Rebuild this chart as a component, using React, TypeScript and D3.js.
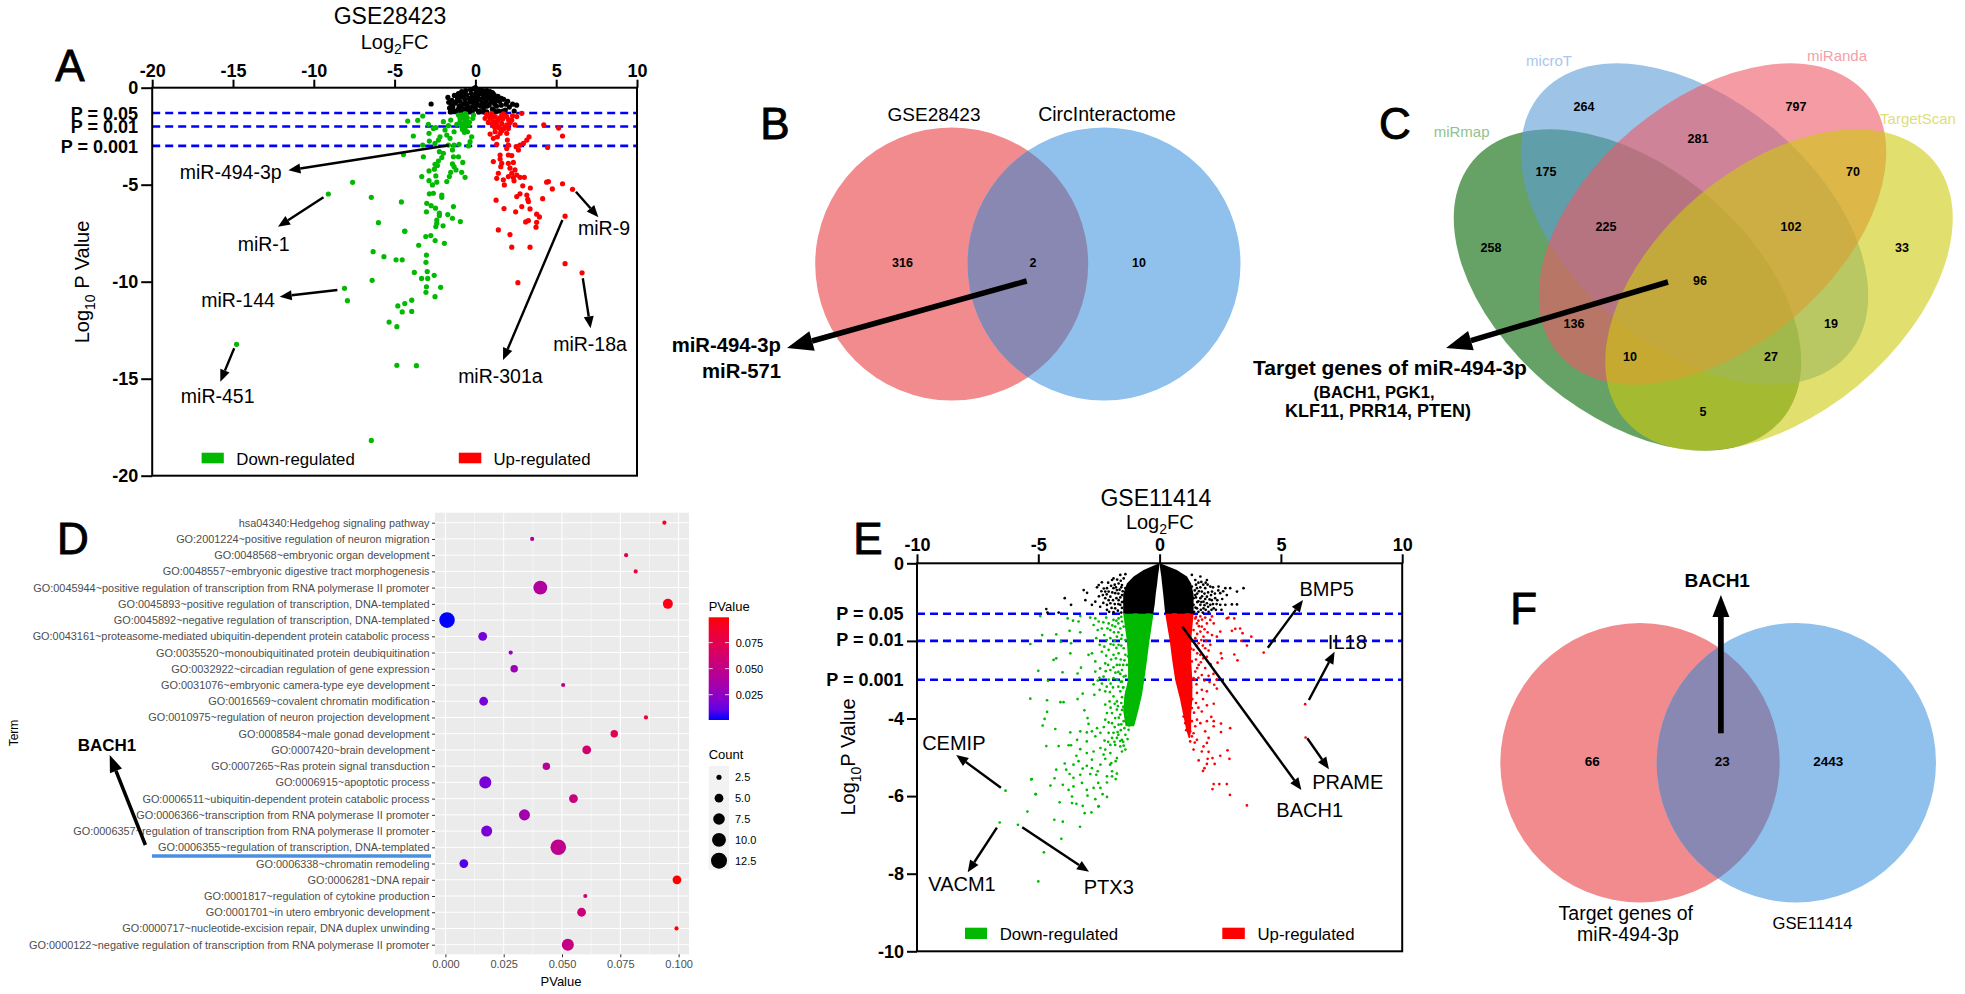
import * as d3 from "d3";
import { useEffect, useRef } from "react";

type Pt = [number, number];

// panel A : GSE28423 volcano, [log2FC, log10 P]
const aNone: Pt[] = [[-2.74,-.84],[-1.7,-.5],[-1.65,-.75],[-1.6,-1.05],[-1.55,-1.25],[-1.45,-.65],[-1.4,-1],[-1.3,-.4],[-1.25,-.8],[-1.2,-1.2],[-1.1,-.55],[-1.05,-.3],[-1,-.95],[-.95,-.7],[-.9,-1.25],[-.85,-.2],[-.8,-.45],[-.75,-.85],[-.7,-1.1],[-.65,-.6],[-.6,-.15],[-.55,-.35],[-.5,-.95],[-.45,-1.25],[-.4,-.55],[-.35,-.75],[-.3,-.1],[-.25,-.3],[-.2,-1],[-.15,-.5],[-.1,-.05],[-.05,-.7],[0,0],[.05,-.25],[.1,-.45],[.15,-.9],[.2,-.1],[.25,-1.2],[.3,-.6],[.35,-.3],[.4,-.8],[.45,-.15],[.5,-1.05],[.55,-.45],[.6,-.25],[.65,-.7],[.7,-1.25],[.75,-.35],[.8,-.55],[.85,-.9],[.9,-.2],[1,-.5],[1.05,-1.1],[1.1,-.7],[1.15,-.35],[1.25,-.55],[1.3,-.95],[1.4,-.45],[1.45,-1.2],[1.5,-.7],[1.6,-.9],[1.75,-.6],[1.85,-1.15],[2,-.7],[2.1,-1],[2.3,-.85],[2.4,-1.2],[2.55,-.9],[-.1,-.4],[-.3,-.55],[.05,-.6],[.3,-.15],
  [-1.5,-.9],[-1.35,-1.2],[-1.15,-.7],[-1.05,-1.1],[-.95,-.45],[-.9,-1],[-.7,-.3],[-.6,-.8],[-.55,-1.1],[-.35,-1.05],[-.25,-.7],[-.2,-1.25],[-.1,-.9],[0,-.4],[0,-1.1],[.1,-.7],[.2,-.35],[.2,-1.25],[.35,-.95],[.45,-.55],[.55,-.85],[.55,-1.25],[.7,-.15],[.7,-.95],[.85,-.4],[.95,-.75],[1.05,-.25],[1.2,-.85],[1.2,-1.2],[1.35,-.65],[1.6,-.55],[1.7,-1.2],[1.9,-.85]];
const aDown: Pt[] = [[-7.6,-4.88],[-9.1,-5.48],[-6.44,-5.65],[-6,-6.96],[-4.37,-7.39],[-6.33,-8.45],[-5.66,-8.71],[-4.91,-8.87],[-4.53,-8.87],[-6.39,-9.93],[-8.1,-10.34],[-7.92,-10.98],[-14.78,-13.23],[-6.44,-18.18],[-4.86,-14.31],[-3.65,-14.33],[-5.34,-12.08],[-4.86,-12.32],[-4.8,-11.25],[-4.37,-11.13],[-3.94,-10.95],[-4.53,-11.56],[-3.94,-11.53],
  [-4.19,-1.72],[-3.26,-1.46],[-3.57,-1.68],[-2.91,-1.89],[-2.6,-2.1],[-2.45,-2.06],[-3.84,-2.49],[-2.87,-2.35],[-2.85,-2.75],[-3.26,-2.96],[-4.45,-3.44],[-3.22,-3.56],[-2.5,-2.87],[-2.19,-2.53],[-2.29,-2.7],[-1.88,-2.18],[-1.67,-1.96],[-1.53,-1.67],[-1.98,-1.75],[-1.77,-2.44],[-1.57,-2.61],[-1.32,-2.27],[-1.15,-1.89],[-.95,-1.75],[-1.05,-1.41],[-.78,-1.49],[-.58,-1.67],[-.43,-1.92],[-.64,-2.1],[-.85,-2],[-.49,-2.27],[-.12,-1.41],[-.16,-1.58],[-.23,-2.53],[-.33,-2.78],[-.43,-3],[-1.01,-2.92],[-1.32,-2.96],[-1.67,-2.96],[-1.98,-3.38],[-2.23,-3.3],[-2.08,-3.6],[-2.29,-3.78],[-2.5,-3.95],[-1.42,-3.21],[-1.36,-3.56],[-1.05,-3.56],[-1.42,-3.93],[-.78,-3.85],[-.64,-1.75],[-.74,-1.92],[-.37,-1.78],[-.95,-1.58],[-.7,-1.58],[-.58,-1.44],
  [-.85,-1.4],[-.5,-1.55],[-.9,-1.85],[-.55,-1.9],[-.8,-2.15],[-.6,-1.35],[-.68,-2.3],
  [-3.32,-4.58],[-2.87,-4.29],[-2.54,-4.2],[-2.35,-4.01],[-2.45,-4.55],[-2.87,-4.79],[-2.66,-5.01],[-2.39,-4.87],[-1.77,-4.84],[-1.61,-4.58],[-1.53,-4.36],[-1.2,-4.24],[-.85,-4.36],[-.64,-4.62],[-1.32,-4.07],[-2.85,-5.47],[-2.6,-5.44],[-2.08,-5.53],[-2.08,-5.65],[-4.58,-5.89],[-3.01,-5.96],[-2.74,-6.08],[-2.47,-6.21],[-3.03,-6.4],[-1.36,-6.13],[-2.23,-6.47],[-2.23,-6.59],[-1.71,-6.54],[-1.42,-6.73],[-2.39,-6.82],[-2.39,-6.99],[-2.45,-7.16],[-2,-7.12],[-.93,-6.9],[-4.37,-7.4],[-3.07,-7.67],[-2.76,-7.62],[-2.49,-7.88],[-1.92,-8.02],[-3.51,-8.12],[-3.03,-8.63],[-3.06,-9],[-3.78,-9.52],[-2.98,-9.48],[-3.33,-9.83],[-2.95,-9.83],[-2.55,-9.67],[-3.03,-10.26],[-2.15,-10.29],[-3.06,-10.55],[-2.5,-10.77]];
const aUp: Pt[] = [[.7,-1.37],[1,-1.32],[.6,-1.58],[.91,-1.58],[1.22,-1.49],[.8,-1.79],[1.11,-1.75],[1.42,-1.67],[1.63,-1.41],[1.94,-1.49],[2.25,-1.67],[2.56,-1.49],[2.87,-1.32],[1.32,-1.92],[1.63,-1.84],[1.94,-1.92],[1.53,-2.1],[1.77,-2.1],[2.04,-2.1],[2.45,-1.92],[.91,-2.39],[1.22,-2.27],[1.53,-2.35],[1.94,-2.35],[1.11,-2.61],[1.36,-2.53],[1.32,-2.92],[1.98,-2.7],[2.04,-2.96],[1.94,-3.13],[2.52,-3.04],[2.76,-2.96],[2.97,-2.87],[3.18,-2.7],[3.32,-2.53],[2.66,-3.21],[4.47,-3.08],[4.23,-1.91],[5.15,-2.08],[5.39,-2.49],[1.53,-3.47],[2.04,-3.47],[2.25,-3.5],[1.11,-3.81],[1.63,-3.9],[2.04,-3.9],[2.35,-3.85],[1.53,-3.68],
  [.85,-1.45],[1.1,-1.5],[1.3,-1.75],[1.5,-1.55],[1.7,-1.6],[1.05,-1.9],[1.2,-2.05],[1.45,-2.05],[1.65,-2.2],[1.85,-2.05],[2.15,-1.8],[2.3,-1.45],[1.75,-1.35],[2.05,-1.65],
  [1.57,-4.07],[1.42,-4.41],[1.32,-4.67],[1.73,-4.75],[1.79,-5.01],[2.14,-4.15],[2.45,-4.24],[2.25,-4.41],[2.04,-4.58],[2.35,-4.63],[2.56,-4.5],[2.39,-4.8],[2.76,-4.62],[3.03,-4.62],[2.93,-5.06],[3.4,-5.17],[4.41,-4.87],[4.52,-4.84],[4.76,-5.22],[1.28,-5.8],[1.77,-6.23],[2.49,-6.4],[2.56,-5.61],[2.76,-5.47],[3.18,-5.53],[3.24,-5.75],[3.28,-5.87],[4.16,-5.72],[2.87,-6.13],[3.38,-6.25],[3.79,-6.52],[3.96,-6.66],[3.11,-6.92],[3.28,-6.85],[3.79,-6.94],[3.75,-7.19],[1.42,-7.33],[2.14,-7.57],[2.25,-8.22],[3.38,-8.22],[5.39,-4.95],[6.01,-5.24],[5.55,-6.62],[5.55,-9.07],[6.6,-9.54],[2.63,-10.05]];

// panel E : GSE11414 volcano, the dense wedges are kept as envelopes
const eBlackDepth = [0,-.17,-.34,-.52,-.8,-1.05,-1.3];
const eBlackLeftOuter = [-.02,-.66,-1.07,-1.35,-1.5,-1.5,-1.5];
const eBlackLeftInner = [0,-.03,-.07,-.1,-.16,-.2,-.26];
const eBlackRightOuter = [.02,.71,1.13,1.3,1.4,1.4,1.4];
const eBlackRightInner = [0,.03,.07,.1,.15,.19,.23];
const eGreenDepth = [-1.3,-2,-2.5,-3,-3.4,-3.8,-4.2];
const eGreenOuter = [-1.5,-1.35,-1.3,-1.3,-1.45,-1.5,-1.4];
const eGreenInner = [-.25,-.42,-.52,-.63,-.73,-.88,-1.05];
const eRedDepth = [-1.3,-2,-2.5,-3,-3.5,-3.9,-4.3,-4.5];
const eRedOuter = [1.4,1.3,1.3,1.35,1.35,1.3,1.3,1.25];
const eRedInner = [.23,.42,.52,.64,.84,.97,1.1,1.2];
const eNone: Pt[] = [[-4.67,-1.18],[-4.62,-1.27],[-4.16,-1.27],[-3.91,-.9],[-3.65,-1.07],[-3.13,-.69],[-2.99,-.76],[-3.06,-.95],[-2.79,-1.07],[-2.65,-.99],[-2.58,-.62],[-2.51,-.56],[-2.38,-.49],[-2.17,-.64],[-1.96,-.43],[-1.9,-.39],[-1.62,-.3],[-1.41,-.28],[-1.48,-.39],[-2.1,-.73],[-1.9,-.64],[-1.76,-.69],[-2.03,-.86],[-2.24,-.9],[-2.45,-1.12],[-2.17,-1.07],[-2.03,-1.03],[-1.83,-1.16],[-1.69,-.95],[-1.55,-.82],[-1.62,-1.07],[-1.41,-1.2],[-1.41,-.64],[-1.55,-.56],[-1.69,-.52],[-1.83,-.77],[-2.24,-.73],[-2.34,-.82],[-2.17,-1.2],[-1.48,-.99],
  [-1.6,-.45],[-1.75,-.42],[-1.58,-.62],[-1.7,-.78],[-1.85,-.55],[-2,-.58],[-2.12,-.5],[-1.95,-.75],[-2.18,-.8],[-2.3,-.65],[-1.62,-.88],[-1.78,-.9],[-1.92,-.95],[-2.1,-.95],[-1.55,-1],[-1.7,-1.05],[-1.85,-1.05],[-1.98,-1.15],[-2.32,-1.02],[-1.55,-1.15],[-1.72,-1.22],[-1.9,-1.26],[-2.08,-1.25],[-1.58,-1.27],[-2.4,-.72],[-2.5,-.85],[-1.65,-.68],[-1.8,-.62],[-1.52,-.72],
  [3.46,-.64],[3.19,-.73],[2.91,-.64],[2.71,-.64],[2.43,-.6],[1.95,-.43],[1.68,-.34],[1.33,-.3],[1.47,-.43],[2.16,-.73],[2.5,-.77],[2.77,-.82],[2.71,-1.07],[2.98,-1.06],[3.19,-1.06],[2.5,-1.07],[2.23,-1.16],[2.09,-1.07],[2.02,-1.25],[1.81,-1.16],[1.68,-1.07],[1.54,-1.16],[1.4,-1.07],[1.95,-.86],[1.74,-.73],[1.54,-.64],[2.09,-.6],[2.29,-.9],[1.88,-.64],[1.68,-.9],[1.47,-.82],[1.33,-.6],[1.81,-.99],[1.4,-.9],[1.95,-1.03],[1.6,-.5],[1.8,-.55],[2,-.75],[1.55,-1],[1.7,-1.2],[1.9,-1.2],[2.15,-.95],[2.35,-1.05],[1.45,-.7],[1.75,-.85],
  [1.5,-.55],[1.62,-.72],[1.72,-.48],[1.85,-.78],[1.98,-.55],[2.06,-.93],[2.2,-.62],[2.28,-.78],[2.38,-.95],[1.5,-.88],[1.6,-.98],[1.72,-1.0],[1.88,-.92],[2,-1.12],[2.14,-1.2],[1.48,-1.14],[1.6,-1.25],[1.78,-1.27],[2.32,-1.2],[2.42,-.7],[2.58,-.92],[2.62,-.72],[1.55,-.78],[1.68,-.62],[1.9,-.5],[2.12,-.82],[2.55,-1.2],[2.2,-1.05],[1.42,-1.25],[1.85,-1.08]];
const eDown: Pt[] = [[-4.92,-1.36],[-4.84,-1.85],[-5.33,-2.08],[-4.26,-1.83],[-4.07,-2.02],[-3.79,-1.42],[-3.71,-1.74],[-3.65,-2.06],[-3.57,-1.48],[-3.27,-1.36],[-3.34,-1.5],[-3.27,-1.78],[-3.68,-2.32],[-4.37,-2.49],[-4.26,-2.45],[-5,-2.77],[-4,-2.81],[-4.6,-3.03],[-3.38,-2.84],[-3.24,-2.69],[-2.93,-2.36],[-2.79,-2.32],[-2.86,-1.4],[-2.65,-1.42],[-2.51,-1.5],[-2.72,-1.59],[-2.55,-1.72],[-2.38,-1.68],[-2.61,-1.93],[-2.47,-2.1],[-2.28,-1.85],[-2.1,-1.55],[-1.9,-1.46],[-1.69,-1.42],[-1.55,-1.5],[-2.03,-1.72],[-1.83,-1.63],[-1.62,-1.68],[-1.48,-1.63],[-2.03,-1.93],[-1.76,-1.89],[-1.55,-1.85],[-1.41,-1.98],[-1.9,-2.1],[-1.69,-2.1],[-1.48,-2.19],[-2.1,-2.23],[-1.9,-2.36],[-1.69,-2.32],[-1.41,-2.36],[-2.65,-2.53],[-2.45,-2.71],[-2.24,-2.58],[-2.03,-2.75],[-1.76,-2.62],[-1.55,-2.75],[-1.35,-2.62],[-2.31,-2.92],[-2.1,-3],[-1.9,-2.96],[-1.48,-2.92],[-2.65,-2.79],
  [-2.2,-1.4],[-2.32,-1.52],[-2.15,-1.68],[-1.78,-1.48],[-1.95,-1.6],[-1.7,-1.55],[-1.58,-1.38],[-1.88,-1.78],[-1.7,-1.78],[-1.58,-1.95],[-2.18,-1.98],[-1.85,-2],[-2.28,-2.15],[-2.02,-2.08],[-1.78,-2.18],[-1.58,-2.12],[-2.38,-2.28],[-2.2,-2.38],[-2,-2.48],[-1.8,-2.45],[-1.6,-2.48],[-1.45,-2.5],[-2.12,-2.62],[-1.9,-2.68],[-1.65,-2.62],[-1.5,-2.62],[-2.22,-2.78],[-1.82,-2.82],[-1.62,-2.85],[-2.48,-2.95],[-2.02,-3.1],[-1.75,-3],[-1.55,-3.05],[-2.38,-3.1],[-2.18,-3.18],[-1.92,-3.2],[-1.7,-3.18],[-1.5,-3.2],[-2.05,-3.32],[-1.62,-3.3],[-2.55,-3.02],[-2.72,-3.12],
  [-5.33,-3.49],[-4.64,-3.53],[-4.09,-3.58],[-3.96,-3.58],[-3.38,-3.5],[-3.17,-3.36],[-2.69,-3.39],[-2.47,-3.26],[-2.24,-3.3],[-4.64,-3.83],[-4.74,-4.01],[-4.82,-4.18],[-4.3,-4.27],[-3.1,-3.79],[-2.97,-3.99],[-2.93,-4.14],[-2.24,-3.64],[-2.06,-3.56],[-2.17,-3.86],[-2.24,-4.03],[-1.9,-3.43],[-1.76,-3.56],[-1.96,-3.86],[-1.76,-3.77],[-1.83,-3.99],[-1.62,-3.9],[-1.48,-4.07],[-1.35,-4.12],[-1.21,-3.94],[-1.28,-4.29],[-1.96,-4.12],[-1.69,-4.16],[-2.58,-4.25],[-2.79,-4.33],[-2.44,-4.37],[-2.1,-4.37],[-1.9,-4.37],[-1.73,-4.35],[-1.41,-4.42],[-3.68,-4.36],[-3.27,-4.33],[-3,-4.36],[-3.4,-4.55],[-3,-4.59],[-2.65,-4.46],[-2.27,-4.57],[-1.96,-4.5],[-1.76,-4.5],[-1.55,-4.55],[-1.32,-4.53],[-4.67,-4.71],[-4.16,-4.71],[-3.75,-4.69],[-3.65,-4.69],[-3.27,-4.79],[-3.43,-4.96],[-3,-4.89],[-2.72,-4.85],[-2.44,-4.76],[-2.24,-4.8],[-2.03,-4.68],[-1.83,-4.68],[-1.62,-4.72],[-1.41,-4.8],[-2.31,-4.93],[-2.03,-4.89],[-1.76,-5.02],[-1.55,-4.85],[-3.34,-5.1],[-2.79,-5.06],[-2.24,-5.04],[-1.99,-5.15],[-1.81,-5.1],[-2.44,-5.19],[-3.91,-5.16],[-4.26,-5.32],[-3.85,-5.32],[-3.55,-5.19],[-3.17,-5.29],[-3,-5.22],[-2.79,-5.28],[-2.55,-5.36],[-2.04,-5.19],[-1.96,-5.36],[-1.76,-5.42],[-3.71,-5.43],[-3.55,-5.53],[-3.27,-5.45],[-2.86,-5.43],[-2.61,-5.45],[-2.17,-5.49],[-1.96,-5.49],[-1.81,-5.56],[-4.33,-5.54],[-5.27,-5.56],[-4.5,-5.73],[-3.99,-5.71],[-3.2,-5.66],[-2.53,-5.66],[-2.17,-5.65],[-3.75,-5.84],[-3.55,-5.75],[-3,-5.84],[-2.72,-5.79],[-2.44,-5.79],[-5.1,-5.95],[-3.61,-6.01],[-2.97,-5.99],[-2.65,-6.08],[-2.35,-5.95],[-2.17,-6.02],[-4.12,-6.16],[-3.61,-6.18],[-3.43,-6.2],[-3.17,-6.25],[-2.51,-6.26],
  [-6.35,-5.86],[-6.59,-6.68],[-5.84,-6.74],[-5.45,-6.4],[-5.11,-5.95],[-5.29,-5.57],[-4.34,-6.61],[-3.99,-6.66],[-3.28,-6.79],[-4.05,-7.1],[-4.77,-7.45],[-5,-8.2],[-3.09,-6.44],[-2.81,-6.42],[-2.52,-6.27],
  [-1.35,-3.86],[-1.2,-4],[-1.1,-4.1],[-1.5,-3.7],[-1.4,-3.95],[-1.25,-4.18],[-1.45,-4.25],[-1.6,-4.3],[-1.15,-3.9],[-1.55,-3.45],[-1.5,-3.2],[-1.4,-2.9],[-1.3,-2.4],[-1.35,-3.3],[-1.6,-3.05],[-1.7,-2.8],
  [-1.58,-3.6],[-1.72,-3.68],[-1.85,-3.62],[-1.55,-3.78],[-1.68,-3.98],[-2.02,-3.72],[-2.1,-4.1],[-1.85,-4.22],[-1.58,-4.15],[-2.3,-4.22],[-1.7,-4.42],[-1.5,-4.6],[-1.62,-4.58],[-1.86,-4.6],[-2.12,-4.6],[-1.48,-4.7]];
const eUp: Pt[] = [[2.77,-1.42],[2.84,-1.4],[3.08,-1.42],[2.98,-1.74],[3.12,-1.69],[3.32,-1.68],[3.42,-1.8],[3.37,-2],[3.78,-1.89],[3.6,-2.12],[4.29,-2.3],[3.08,-2.35],[3.21,-2.5],[2.53,-2.32],[2.39,-2.56],[2.57,-2.45],[2.23,-1.55],[2.09,-1.46],[2.5,-1.76],[2.36,-1.89],[2.16,-1.85],[1.95,-1.55],[1.74,-1.63],[1.81,-1.89],[1.68,-1.76],[2.09,-2.1],[1.88,-2.19],[1.61,-2.06],[1.47,-1.42],[1.54,-1.55],[1.4,-1.72],[1.47,-1.93],[1.4,-2.23],[1.68,-2.36],[1.95,-2.41],[1.61,-2.62],[1.47,-2.79],[1.74,-2.88],[1.33,-2.53],[1.4,-2.96],[2.16,-1.37],[1.68,-1.37],
  [1.5,-1.38],[1.6,-1.48],[1.75,-1.45],[1.88,-1.4],[1.62,-1.62],[1.85,-1.7],[1.98,-1.78],[1.55,-1.82],[1.72,-1.98],[1.92,-2],[1.52,-2.12],[1.78,-2.12],[2.02,-2.25],[1.55,-2.32],[1.8,-2.45],[1.5,-2.48],[1.7,-2.55],[2.1,-2.6],[1.88,-2.7],[1.55,-2.7],[2.02,-2.9],[1.6,-2.95],[2.22,-2.85],[1.85,-3.02],[1.52,-3.12],[2.35,-3],
  [2.06,-3.06],[2.25,-3.13],[2.36,-3.23],[1.95,-3.3],[1.79,-3.5],[1.54,-3.34],[1.74,-3.26],[2.23,-3.62],[1.95,-3.66],[2.13,-3.96],[2.23,-4.07],[1.95,-4.07],[1.74,-3.82],[1.54,-4.03],[1.33,-3.73],[1.47,-4.2],[1.68,-4.12],[2.53,-4.13],[2.53,-4.35],[2.91,-4.25],[1.88,-4.33],[2.23,-4.2],[1.26,-4.33],[1.33,-4.46],[1.54,-4.55],[1.26,-4.59],[2.02,-4.5],[1.95,-4.63],[1.81,-4.72],[1.4,-4.8],[1.74,-4.85],[2.02,-4.86],[2.8,-4.82],[2.5,-4.96],[2.18,-5.02],[1.98,-5.04],[2.88,-5.04],[1.61,-5.08],[1.95,-5.17],[2.27,-5.17],[1.85,-5.28],[1.79,-5.35],[2.23,-5.69],[2.46,-5.69],[2.77,-5.69],[2.18,-5.82],[2.9,-5.97],[3.6,-6.24],[1.06,-4.12],[1.2,-4.27],[1.13,-3.95],[1.33,-4.07],[.99,-3.95],[6,-3.63],[6.02,-4.49],
  [1.2,-3.4],[1.3,-3.2],[1.25,-2.8],[1.3,-2.2],[1.2,-3.7],[1.1,-4.3],[1.15,-3.55],[1.35,-3.5],[1.45,-3],[1.5,-3.6],[1.42,-3.85],[1.6,-3.72],[1.4,-4.38],[1.45,-4.62]];

// panel D : GO terms, top to bottom
const terms = [
  "hsa04340:Hedgehog signaling pathway",
  "GO:2001224~positive regulation of neuron migration",
  "GO:0048568~embryonic organ development",
  "GO:0048557~embryonic digestive tract morphogenesis",
  "GO:0045944~positive regulation of transcription from RNA polymerase II promoter",
  "GO:0045893~positive regulation of transcription, DNA-templated",
  "GO:0045892~negative regulation of transcription, DNA-templated",
  "GO:0043161~proteasome-mediated ubiquitin-dependent protein catabolic process",
  "GO:0035520~monoubiquitinated protein deubiquitination",
  "GO:0032922~circadian regulation of gene expression",
  "GO:0031076~embryonic camera-type eye development",
  "GO:0016569~covalent chromatin modification",
  "GO:0010975~regulation of neuron projection development",
  "GO:0008584~male gonad development",
  "GO:0007420~brain development",
  "GO:0007265~Ras protein signal transduction",
  "GO:0006915~apoptotic process",
  "GO:0006511~ubiquitin-dependent protein catabolic process",
  "GO:0006366~transcription from RNA polymerase II promoter",
  "GO:0006357~regulation of transcription from RNA polymerase II promoter",
  "GO:0006355~regulation of transcription, DNA-templated",
  "GO:0006338~chromatin remodeling",
  "GO:0006281~DNA repair",
  "GO:0001817~regulation of cytokine production",
  "GO:0001701~in utero embryonic development",
  "GO:0000717~nucleotide-excision repair, DNA duplex unwinding",
  "GO:0000122~negative regulation of transcription from RNA polymerase II promoter",
];
const termP = [.0939,.0372,.0775,.0816,.0407,.0954,.0007,.016,.028,.0295,.0505,.0164,.086,.0724,.0606,.0433,.0171,.0549,.0339,.0177,.0484,.0079,.0993,.06,.0584,.0991,.0525];
const termCount = [2,2,2,2,10,6,12,5,2,4,2,5,2,4,5,4,8,5,7,7,12,5,5,2,5,2,8];
const pTicks = [0,.025,.05,.075,.1];
const colorTicks = [.025,.05,.075];
const countTicks = [2.5,5,7.5,10,12.5];

// venn counts
const vennBCounts = ["316","2","10"];
const vennCCounts = ["264","797","281","175","70","225","102","258","33","96","136","19","10","27","5"];
const vennFCounts = ["66","23","2443"];

const FONT = "'Liberation Sans', Arial, sans-serif";

export default function App() {
  const svgRef = useRef<SVGSVGElement>(null);

  useEffect(() => {
    const svg = d3.select(svgRef.current);
    svg.selectAll("*").remove();
    svg.attr("font-family", FONT);
    const defs = svg.append("defs");

    const label = (t: string, x: number, y: number, size: number, opts: any = {}) =>
      svg.append("text")
        .attr("x", x).attr("y", y)
        .attr("font-size", size)
        .attr("text-anchor", opts.anchor ?? "middle")
        .attr("dominant-baseline", "central")
        .attr("font-weight", opts.bold ? 700 : 400)
        .attr("fill", opts.fill ?? "#000")
        .text(t);

    const panelLetter = (t: string, x: number, y: number) =>
      label(t, x, y, 44).attr("stroke", "#000").attr("stroke-width", 0.9);

    const arrow = (x1: number, y1: number, x2: number, y2: number, w = 2.4, hl = 12, hw = 10) => {
      const a = Math.atan2(y2 - y1, x2 - x1);
      const bx = x2 - hl * Math.cos(a), by = y2 - hl * Math.sin(a);
      const nx = -Math.sin(a) * hw / 2, ny = Math.cos(a) * hw / 2;
      svg.append("line").attr("x1", x1).attr("y1", y1).attr("x2", bx).attr("y2", by)
        .attr("stroke", "#000").attr("stroke-width", w);
      svg.append("path")
        .attr("d", `M${x2},${y2}L${bx + nx},${by + ny}L${bx - nx},${by - ny}Z`)
        .attr("fill", "#000");
    };

    const subText = (parts: [string, boolean][], x: number, y: number, size: number, rotate = false) => {
      const t = svg.append("text")
        .attr("font-size", size)
        .attr("text-anchor", "middle")
        .attr("transform", `translate(${x},${y})${rotate ? " rotate(-90)" : ""}`)
        .attr("dy", "0.35em");
      let down = false;
      parts.forEach(([s, sub]) => {
        const span = t.append("tspan").text(s);
        if (sub) { span.attr("font-size", size * 0.7).attr("dy", size * 0.27); down = true; }
        else if (down) { span.attr("dy", -size * 0.27); down = false; }
      });
    };

    // ---- volcano plots
    const volcano = (cfg: any) => {
      const x = d3.scaleLinear(cfg.xDomain, cfg.xRange);
      const y = d3.scaleLinear(cfg.yDomain, cfg.yRange);
      const g = svg.append("g");

      // significance lines sit behind the dots
      [-1.301, -2, -3].forEach(p => {
        g.append("line")
          .attr("x1", cfg.xRange[0]).attr("x2", cfg.xRange[1])
          .attr("y1", y(p)).attr("y2", y(p))
          .attr("stroke", "#0000ff").attr("stroke-width", 2.6)
          .attr("stroke-dasharray", "8,5");
      });

      if (cfg.wedges) {
        cfg.wedges.forEach((w: any) => {
          const area = d3.area<number>()
            .y((_, i) => y(w.depth[i]))
            .x0((_, i) => x(w.outer[i]))
            .x1((_, i) => x(w.inner[i]));
          g.append("path").attr("d", area(w.depth)).attr("fill", w.fill);
        });
      }

      cfg.series.forEach((s: any) => {
        g.append("g").selectAll("circle").data(s.points as Pt[]).join("circle")
          .attr("cx", d => x(d[0])).attr("cy", d => y(d[1]))
          .attr("r", cfg.r).attr("fill", s.fill);
      });

      g.append("rect")
        .attr("x", cfg.xRange[0]).attr("y", cfg.yRange[0])
        .attr("width", cfg.xRange[1] - cfg.xRange[0]).attr("height", cfg.yRange[1] - cfg.yRange[0])
        .attr("fill", "none").attr("stroke", "#000").attr("stroke-width", 2);

      const xAxis = d3.axisTop(x).tickValues(cfg.xTicks).tickSize(cfg.xTickLen).tickPadding(3)
        .tickFormat(d => String(d));
      const yAxis = d3.axisLeft(y).tickValues(cfg.yTicks).tickSize(cfg.yTickLen).tickPadding(3)
        .tickFormat(d => cfg.yHidden.includes(d) ? "" : String(d));
      const gx = g.append("g").attr("transform", `translate(0,${cfg.yRange[0]})`).call(xAxis);
      const gy = g.append("g").attr("transform", `translate(${cfg.xRange[0]},0)`).call(yAxis);
      [gx, gy].forEach(a => {
        a.select(".domain").remove();
        a.selectAll("line").attr("stroke", "#000").attr("stroke-width", 2);
        a.selectAll("text").attr("font-size", 18).attr("font-weight", 700)
          .attr("font-family", FONT).attr("fill", "#000");
      });
    };

    // panel A
    volcano({
      xDomain: [-20, 10], xRange: [152.2, 637],
      yDomain: [0, -20], yRange: [87.7, 475.7],
      xTicks: [-20, -15, -10, -5, 0, 5, 10], yTicks: [0, -5, -10, -15, -20], yHidden: [],
      xTickLen: 8, yTickLen: 11, r: 2.6,
      series: [
        { points: aNone, fill: "#000" },
        { points: aDown, fill: "#00b900" },
        { points: aUp, fill: "#ff0000" },
      ],
    });
    label("GSE28423", 390, 16, 23);
    subText([["Log", false], ["2", true], ["FC", false]], 394.6, 42, 20);
    panelLetter("A", 70, 65);
    subText([["Log", false], ["10", true], [" P Value", false]], 82.4, 282, 20, true);
    label("P = 0.05", 138, 114, 18, { anchor: "end", bold: true });
    label("P = 0.01", 138, 127, 18, { anchor: "end", bold: true });
    label("P = 0.001", 138, 147, 18, { anchor: "end", bold: true });
    svg.append("rect").attr("x", 201.6).attr("y", 452.7).attr("width", 22.2).attr("height", 10.6).attr("fill", "#00b900");
    label("Down-regulated", 236.3, 459, 16.8, { anchor: "start" });
    svg.append("rect").attr("x", 458.8).attr("y", 452.7).attr("width", 22.5).attr("height", 10.6).attr("fill", "#ff0000");
    label("Up-regulated", 493.5, 459, 16.8, { anchor: "start" });
    label("miR-494-3p", 230.7, 172, 19.5);
    label("miR-1", 263.7, 244, 19.5);
    label("miR-144", 238, 300, 19.5);
    label("miR-451", 217.7, 396, 19.5);
    label("miR-9", 604, 228, 19.5);
    label("miR-18a", 590, 344, 19.5);
    label("miR-301a", 500.4, 376, 19.5);
    arrow(448.8, 145.3, 288.4, 170.3);
    arrow(323.5, 197.3, 278, 226.7);
    arrow(337.4, 290, 279.7, 296.7);
    arrow(234.2, 348.3, 220.3, 381.7);
    arrow(575.9, 191.7, 598.4, 217.3);
    arrow(582.8, 278.3, 590.6, 328.3);
    arrow(562.4, 220, 503, 360);

    // ---- two set venn
    const venn2 = (id: string, c1: number, c2: number, cy: number, r: number) => {
      defs.append("clipPath").attr("id", id).append("circle").attr("cx", c1).attr("cy", cy).attr("r", r);
      svg.append("circle").attr("cx", c1).attr("cy", cy).attr("r", r).attr("fill", "#f18b8d");
      svg.append("circle").attr("cx", c2).attr("cy", cy).attr("r", r).attr("fill", "#90c1ec");
      svg.append("circle").attr("cx", c2).attr("cy", cy).attr("r", r).attr("fill", "#8988b2")
        .attr("clip-path", `url(#${id})`);
    };

    // panel B
    venn2("clipB", 951.7, 1104, 264, 136.5);
    panelLetter("B", 775, 123);
    label("GSE28423", 934, 114, 19);
    label("CircInteractome", 1107, 114, 19.5);
    const bPos = [902.5, 1033, 1139];
    vennBCounts.forEach((t, i) => label(t, bPos[i], 263, 12.5, { bold: true }));
    arrow(1026.7, 281, 787, 348, 5.5, 26, 20);
    label("miR-494-3p", 781, 345, 20.3, { anchor: "end", bold: true });
    label("miR-571", 781, 371, 20.3, { anchor: "end", bold: true });

    // panel C, drawn in the order of the overlaps
    const ellipses = [
      { cx: 1627.5, cy: 290, rot: 40, fill: "#006400" },
      { cx: 1694.5, cy: 224, rot: 40, fill: "#5c9bd5" },
      { cx: 1712.5, cy: 224, rot: -40, fill: "#ee5866" },
      { cx: 1779, cy: 290, rot: -40, fill: "#cdcb0d" },
    ];
    svg.append("g").selectAll("ellipse").data(ellipses).join("ellipse")
      .attr("rx", 201.6).attr("ry", 123.9)
      .attr("transform", d => `translate(${d.cx},${d.cy}) rotate(${d.rot})`)
      .attr("fill", d => d.fill).attr("fill-opacity", 0.6);
    panelLetter("C", 1395, 123);
    label("miRmap", 1461.6, 131, 15, { fill: "#8fc28f" });
    label("microT", 1549, 60, 15, { fill: "#a8c8ec" });
    label("miRanda", 1837, 55, 15, { fill: "#f4a0a8" });
    label("TargetScan", 1918, 118, 15, { fill: "#dede7a" });
    const cPosX = [1584, 1796, 1698, 1546, 1853, 1606, 1791, 1491, 1902, 1700, 1574, 1831, 1630, 1771, 1703];
    const cPosY = [107, 107, 139, 172, 172, 227, 227, 248, 248, 281, 324, 324, 357, 357, 412];
    vennCCounts.forEach((t, i) => label(t, cPosX[i], cPosY[i], 12.5, { bold: true }));
    arrow(1668, 282, 1446, 348, 5.5, 26, 20);
    label("Target genes of miR-494-3p", 1390, 367, 21, { bold: true });
    label("(BACH1, PGK1,", 1374, 392, 16.5, { bold: true });
    label("KLF11, PRR14, PTEN)", 1378, 411, 18, { bold: true });

    // ---- panel D dot plot
    const dx = d3.scaleLinear([0, 0.1], [445.4, 678.6]);
    const dy = d3.scalePoint(terms, [522.7, 944.7]);
    const pExtent = d3.extent(termP) as [number, number];
    const pColor = d3.scaleLinear<string>(pExtent, ["#0000ff", "#ff0000"]).interpolate(d3.interpolateLab);
    const rScale = d3.scaleSqrt([2, 13], [2.1, 8.2]);

    const dg = svg.append("g");
    dg.append("rect").attr("x", 435).attr("y", 512.7).attr("width", 254).attr("height", 441.6).attr("fill", "#ebebeb");
    terms.forEach(t => {
      dg.append("line").attr("x1", 435).attr("x2", 689).attr("y1", dy(t)!).attr("y2", dy(t)!)
        .attr("stroke", "#fff").attr("stroke-width", 1);
    });
    pTicks.forEach((p, i) => {
      dg.append("line").attr("x1", dx(p)).attr("x2", dx(p)).attr("y1", 512.7).attr("y2", 954.3)
        .attr("stroke", "#fff").attr("stroke-width", 1);
      if (i < pTicks.length - 1) {
        const m = (p + pTicks[i + 1]) / 2;
        dg.append("line").attr("x1", dx(m)).attr("x2", dx(m)).attr("y1", 512.7).attr("y2", 954.3)
          .attr("stroke", "#fff").attr("stroke-width", 0.5);
      }
    });
    dg.append("g").selectAll("circle").data(terms).join("circle")
      .attr("cx", (_, i) => dx(termP[i])).attr("cy", d => dy(d)!)
      .attr("r", (_, i) => rScale(termCount[i]))
      .attr("fill", (_, i) => pColor(termP[i]));

    const dAxisY = dg.append("g").attr("transform", "translate(435,0)")
      .call(d3.axisLeft(dy).tickSize(3).tickPadding(2.5));
    const dAxisX = dg.append("g").attr("transform", "translate(0,954.3)")
      .call(d3.axisBottom(dx).tickValues(pTicks).tickSize(3).tickPadding(2.5).tickFormat(d3.format(".3f")));
    [dAxisX, dAxisY].forEach(a => {
      a.select(".domain").remove();
      a.selectAll("line").attr("stroke", "#333");
      a.selectAll("text").attr("fill", "#4d4d4d").attr("font-family", FONT);
    });
    dAxisY.selectAll("text").attr("font-size", 10.9);
    dAxisX.selectAll("text").attr("font-size", 11);

    label("PValue", 561, 981, 13);
    label("Term", 14, 733, 12).attr("transform", "rotate(-90 14 733)");
    panelLetter("D", 73, 538);
    label("PValue", 708.7, 606, 13, { anchor: "start" });

    const barY = d3.scaleLinear(pExtent, [720, 617.3]);
    const grad = defs.append("linearGradient").attr("id", "pBar")
      .attr("x1", 0).attr("x2", 0).attr("y1", 1).attr("y2", 0);
    d3.range(0, 1.01, 0.1).forEach(o => {
      grad.append("stop").attr("offset", o)
        .attr("stop-color", pColor(pExtent[0] + o * (pExtent[1] - pExtent[0])));
    });
    svg.append("rect").attr("x", 708.7).attr("y", 617.3).attr("width", 20.3).attr("height", 102.7).attr("fill", "url(#pBar)");
    colorTicks.forEach(p => {
      [[708.7, 712.7], [725, 729]].forEach(([a, b]) => {
        svg.append("line").attr("x1", a).attr("x2", b).attr("y1", barY(p)).attr("y2", barY(p))
          .attr("stroke", "#fff").attr("stroke-width", 0.8);
      });
      label(d3.format(".3f")(p), 735.7, barY(p), 11, { anchor: "start" });
    });
    label("Count", 708.7, 754, 13, { anchor: "start" });
    svg.append("rect").attr("x", 708.7).attr("y", 766).attr("width", 20.3).attr("height", 104).attr("fill", "#f2f2f2");
    const countY = d3.scalePoint(countTicks.map(String), [777.3, 860.7]);
    countTicks.forEach(c => {
      svg.append("circle").attr("cx", 719).attr("cy", countY(String(c))!).attr("r", rScale(c)).attr("fill", "#000");
      label(d3.format(".1f")(c), 735, countY(String(c))!, 11, { anchor: "start" });
    });
    svg.append("line").attr("x1", 152).attr("x2", 431).attr("y1", 856).attr("y2", 856)
      .attr("stroke", "#4a90e2").attr("stroke-width", 3.5);
    label("BACH1", 107, 745, 17, { bold: true });
    arrow(145.4, 845, 109.7, 755, 3.5, 17, 13);

    // panel E
    volcano({
      xDomain: [-10, 10], xRange: [917, 1402.2],
      yDomain: [0, -10], yRange: [563.3, 951.3],
      xTicks: [-10, -5, 0, 5, 10], yTicks: [0, -2, -4, -6, -8, -10], yHidden: [-2],
      xTickLen: 9, yTickLen: 10, r: 1.35,
      wedges: [
        { depth: eBlackDepth, outer: eBlackLeftOuter, inner: eBlackLeftInner, fill: "#000" },
        { depth: eBlackDepth, outer: eBlackRightOuter, inner: eBlackRightInner, fill: "#000" },
        { depth: eGreenDepth, outer: eGreenOuter, inner: eGreenInner, fill: "#00b900" },
        { depth: eRedDepth, outer: eRedOuter, inner: eRedInner, fill: "#ff0000" },
      ],
      series: [
        { points: eNone, fill: "#000" },
        { points: eDown, fill: "#00b900" },
        { points: eUp, fill: "#ff0000" },
      ],
    });
    label("GSE11414", 1155.9, 498, 23);
    subText([["Log", false], ["2", true], ["FC", false]], 1159.8, 522, 20);
    panelLetter("E", 868, 538);
    subText([["Log", false], ["10", true], ["P Value", false]], 848.2, 757, 20, true);
    label("P = 0.05", 903.6, 614, 18, { anchor: "end", bold: true });
    label("P = 0.01", 903.6, 640, 18, { anchor: "end", bold: true });
    label("P = 0.001", 903.6, 680, 18, { anchor: "end", bold: true });
    svg.append("rect").attr("x", 965).attr("y", 927.7).attr("width", 22).attr("height", 11.3).attr("fill", "#00b900");
    label("Down-regulated", 999.7, 934, 16.8, { anchor: "start" });
    svg.append("rect").attr("x", 1222.3).attr("y", 927.7).attr("width", 22.5).attr("height", 11.3).attr("fill", "#ff0000");
    label("Up-regulated", 1257.5, 934, 16.8, { anchor: "start" });
    label("BMP5", 1326.7, 589, 20);
    label("IL18", 1347.3, 642, 20);
    label("PRAME", 1347.7, 782, 20);
    label("BACH1", 1309.7, 810, 20);
    label("CEMIP", 953.8, 743, 20);
    label("VACM1", 962, 884, 20);
    label("PTX3", 1108.8, 887, 20);
    arrow(1267.8, 647.7, 1303, 600);
    arrow(1308.9, 700, 1334.6, 651.7);
    arrow(1307.3, 738.3, 1329, 769.3);
    arrow(1182.4, 626.7, 1301.4, 790);
    arrow(1000.9, 787.7, 956.2, 755);
    arrow(996.9, 827.7, 967.7, 872.3);
    arrow(1022.2, 827.3, 1089, 871.7);

    // panel F
    venn2("clipF", 1640, 1796.3, 762.8, 139.7);
    panelLetter("F", 1523.7, 608);
    const fPos = [1592.3, 1722.2, 1828.3];
    vennFCounts.forEach((t, i) => label(t, fPos[i], 761, 13.5, { bold: true }));
    arrow(1720.9, 733.3, 1720.9, 595, 5.7, 22, 17);
    label("BACH1", 1717.2, 580, 19, { bold: true });
    label("Target genes of", 1625.8, 913, 19.5);
    label("miR-494-3p", 1628, 934, 19.5);
    label("GSE11414", 1812.6, 923, 16.6);
  }, []);

  return (
    <svg
      ref={svgRef}
      width={1965}
      height={994}
      style={{ position: "absolute", left: 0, top: 0, display: "block", background: "#fff" }}
      xmlns="http://www.w3.org/2000/svg"
    />
  );
}
